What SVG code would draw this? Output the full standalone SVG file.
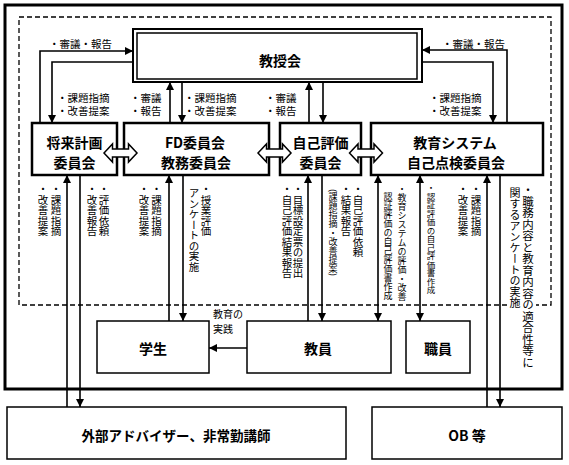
<svg xmlns="http://www.w3.org/2000/svg" width="569" height="465" viewBox="0 0 569 465">
<defs>
<style>
.t{font-family:"Noto Sans CJK JP","Noto Sans",sans-serif;fill:#000}
.b{font-weight:bold;font-size:14px;text-anchor:middle;dominant-baseline:central}
.l{font-size:10.5px;dominant-baseline:central}
.v{font-size:10.5px;writing-mode:vertical-rl}
.box{fill:#fff;stroke:#000;stroke-width:1.5}
.tb{fill:#fff;stroke:#000;stroke-width:2.5}
.c{fill:none;stroke:#000;stroke-width:1.6}
</style>
<marker id="ah" viewBox="0 0 10 10" refX="10" refY="5" markerWidth="8" markerHeight="8" markerUnits="userSpaceOnUse" orient="auto-start-reverse"><path d="M0,0 L10,5 L0,10 z"/></marker>
<path id="dbl" d="M-16.5,0 L-8,-9 L-8,-4 L8,-4 L8,-9 L16.5,0 L8,9 L8,4 L-8,4 L-8,9 Z" fill="#fff" stroke="#000" stroke-width="1.5"/>
</defs>
<rect width="569" height="465" fill="#fff"/>
<rect x="5" y="5" width="557" height="384" fill="none" stroke="#000" stroke-width="3"/>
<rect x="19" y="17" width="532" height="288" fill="none" stroke="#000" stroke-width="1.3" stroke-dasharray="5 3"/>

<g id="connectors" class="c">
<path d="M40,123 V51 H133" marker-end="url(#ah)"/>
<path d="M133,62 H52 V123" marker-end="url(#ah)"/>
<path d="M170,123 V82" marker-end="url(#ah)"/>
<path d="M182,82 V123" marker-end="url(#ah)"/>
<path d="M309,123 V82" marker-end="url(#ah)"/>
<path d="M323,82 V123" marker-end="url(#ah)"/>
<path d="M507,123 V50 H422" marker-end="url(#ah)"/>
<path d="M422,62 H493 V123" marker-end="url(#ah)"/>
<path d="M67,407 V175" marker-end="url(#ah)"/>
<path d="M80,175 V407" marker-end="url(#ah)"/>
<path d="M169,321 V175" marker-end="url(#ah)"/>
<path d="M183,175 V321" marker-end="url(#ah)"/>
<path d="M308,321 V175" marker-end="url(#ah)"/>
<path d="M322,175 V321" marker-end="url(#ah)"/>
<path d="M378,175 V321" marker-start="url(#ah)" marker-end="url(#ah)"/>
<path d="M420,175 V321" marker-start="url(#ah)" marker-end="url(#ah)"/>
<path d="M487,407 V175" marker-end="url(#ah)"/>
<path d="M500,175 V407" marker-end="url(#ah)"/>
<path d="M247,348 H209" marker-end="url(#ah)"/>
</g>

<g id="kyojukai">
<rect x="133" y="29" width="289" height="53" fill="#fff" stroke="#000" stroke-width="2"/>
<rect x="137" y="33" width="280" height="46" fill="none" stroke="#000" stroke-width="1.5"/>
<text class="t b" x="280" y="60">教授会</text>
</g>
<g id="shorai">
<rect class="tb" x="32" y="123" width="85" height="52"/>
<text class="t b" x="74.5" y="142">将来計画</text>
<text class="t b" x="74.5" y="162">委員会</text>
</g>
<g id="fd">
<rect class="tb" x="124" y="123" width="145" height="52"/>
<text class="t b" x="195" y="142">FD委員会</text>
<text class="t b" x="196" y="162">教務委員会</text>
</g>
<g id="jiko">
<rect class="tb" x="280" y="123" width="81" height="52"/>
<text class="t b" x="320.5" y="142">自己評価</text>
<text class="t b" x="320.5" y="162">委員会</text>
</g>
<g id="kyoiku">
<rect class="tb" x="371" y="123" width="172" height="52"/>
<text class="t b" x="455" y="142">教育システム</text>
<text class="t b" x="456" y="162">自己点検委員会</text>
</g>
<g id="dblarrows">
<use href="#dbl" x="120.5" y="153"/>
<use href="#dbl" x="274.5" y="153"/>
<use href="#dbl" x="366" y="153"/>
</g>
<g id="gakusei">
<rect class="box" x="97" y="321" width="112" height="52"/>
<text class="t b" x="153" y="348">学生</text>
</g>
<g id="kyoin">
<rect class="box" x="247" y="321" width="144" height="52"/>
<text class="t b" x="318" y="348">教員</text>
</g>
<g id="shokuin">
<rect class="box" x="406" y="321" width="64" height="52"/>
<text class="t b" x="438" y="348">職員</text>
</g>
<g id="gaibu">
<rect class="box" x="7" y="407" width="339" height="52"/>
<text class="t b" x="176" y="435" style="font-size:13.5px">外部アドバイザー、非常勤講師</text>
</g>
<g id="ob">
<rect class="box" x="372" y="407" width="190" height="52"/>
<text class="t b" x="467" y="435">OB 等</text>
</g>

<g id="labels" class="t">
<text class="l" x="49" y="43">・審議・報告</text>
<text class="l" x="57" y="97">・課題指摘</text>
<text class="l" x="57" y="110.5">・改善提案</text>
<text class="l" x="130" y="97">・審議</text>
<text class="l" x="130" y="110.5">・報告</text>
<text class="l" x="184" y="97">・課題指摘</text>
<text class="l" x="184" y="110.5">・改善提案</text>
<text class="l" x="265" y="97">・審議</text>
<text class="l" x="265" y="110.5">・報告</text>
<text class="l" x="442" y="43">・審議・報告</text>
<text class="l" x="429" y="97">・課題指摘</text>
<text class="l" x="429" y="110.5">・改善提案</text>
<text class="l" x="213" y="313.5" style="font-size:10px">教育の</text>
<text class="l" x="213" y="328.5" style="font-size:10px">実践</text>

<text class="v" x="56" y="184">・課題指摘</text>
<text class="v" x="43" y="184">・改善提案</text>
<text class="v" x="104" y="184">・評価依頼</text>
<text class="v" x="92" y="184">・改善報告</text>
<text class="v" x="156.5" y="184">・課題指摘</text>
<text class="v" x="144" y="184">・改善提案</text>
<text class="v" x="206" y="184">・授業評価</text>
<text class="v" x="194" y="188">アンケートの実施</text>
<text class="v" x="298" y="184">・目標設定票の提出</text>
<text class="v" x="287" y="184">・自己評価結果報告</text>
<text class="v" x="358" y="184">・自己評価依頼</text>
<text class="v" x="346" y="184">・結果報告</text>
<text class="v" x="333" y="189" style="font-size:9px">(課題指摘・改善提案)</text>
<text class="v" x="402" y="184" style="font-size:9px">・教育システムの評価・改善</text>
<text class="v" x="388" y="192" style="font-size:9px">認証評価の自己評価書作成</text>
<text class="v" x="431" y="184" style="font-size:8.5px">・認証評価の自己評価書作成</text>
<text class="v" x="476" y="184">・課題指摘</text>
<text class="v" x="463" y="184">・改善提案</text>
<rect x="509" y="300" width="27" height="10" fill="#fff"/>
<text class="v" x="528" y="184" style="font-size:11.5px">・職務内容と教育内容の適合性等に</text>
<text class="v" x="515" y="187" style="font-size:11px">関するアンケートの実施</text>
</g>
</svg>
